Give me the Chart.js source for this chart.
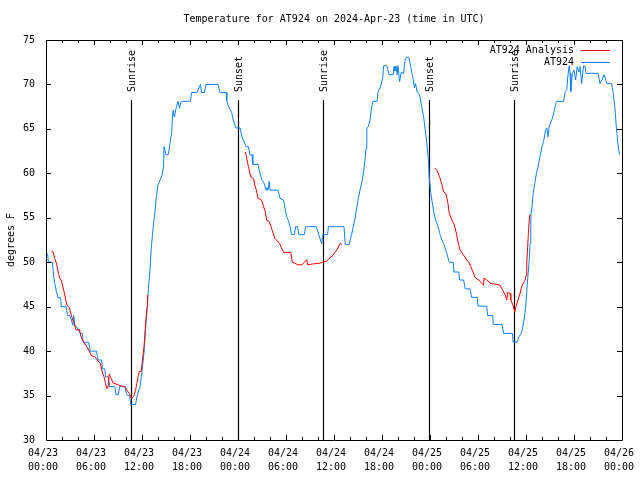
<!DOCTYPE html>
<html>
<head>
<meta charset="utf-8">
<title>Temperature for AT924</title>
<script src="https://cdn.jsdelivr.net/npm/chart.js@4.4.1/dist/chart.umd.min.js"></script>
<style>
  html, body { margin: 0; padding: 0; background: #fff; }
  canvas { display: block; }
</style>
</head>
<body>
<canvas id="chartSuhu" width="640" height="480"></canvas>
<script>
// jam sejak 04/23 00:00 UTC, suhu dalam derajat F
const stationHours = [0.2, 0.3, 0.8, 0.95, 1.1, 1.3, 1.5, 1.85, 1.9, 2.5, 2.7, 3.0, 3.2, 3.35, 3.45, 3.6, 4.0, 4.25, 4.55, 4.65,
  5.35, 5.5, 6.3, 6.5, 6.95, 7.05, 7.35, 7.45, 7.8, 7.95, 8.6, 8.75, 9.05, 9.2, 9.85, 9.95, 10.15, 10.45, 10.6, 11.2,
  11.4, 11.75, 12.0, 12.25, 12.45, 12.6, 12.8, 13.0, 13.15, 13.3, 13.45, 13.6, 13.8, 14.0, 14.25, 14.5, 14.7, 14.75, 14.9, 15.0,
  15.3, 15.5, 15.7, 15.8, 15.9, 16.0, 16.1, 16.3, 16.5, 16.7, 16.85, 17.1, 18.05, 18.2, 18.9, 19.15, 19.3, 19.45, 19.8, 20.0,
  21.5, 21.75, 22.5, 22.6, 22.8, 23.2, 23.4, 23.75, 24.25, 24.5, 24.75, 25.0, 25.3, 25.5, 25.75, 25.85, 26.5, 26.75, 27.0, 27.25,
  27.5, 27.6, 27.75, 27.9, 28.0, 29.0, 29.25, 29.7, 29.9, 30.1, 30.3, 30.5, 30.7, 31.05, 31.2, 31.45, 31.6, 32.3, 32.45, 33.8,
  34.1, 34.45, 34.6, 35.2, 35.3, 37.25, 37.4, 37.9, 38.05, 38.2, 38.4, 38.6, 38.8, 39.0, 39.2, 39.5, 39.7, 39.9, 40.0, 40.1,
  40.3, 40.5, 40.7, 40.9, 41.4, 41.5, 41.75, 41.9, 42.1, 42.2, 42.6, 42.9, 43.4, 43.5, 43.6, 43.75, 43.9, 44.0, 44.2, 44.4,
  44.7, 44.85, 45.05, 45.35, 45.6, 45.8, 45.9, 46.05, 46.2, 46.4, 46.6, 46.75, 46.95, 47.2, 47.4, 47.6, 47.8, 47.9, 48.1, 48.3,
  48.5, 48.7, 49.0, 49.3, 49.5, 49.7, 50.1, 50.4, 50.9, 51.0, 51.6, 51.7, 52.2, 52.4, 53.0, 53.2, 53.9, 54.0, 55.1, 55.2,
  55.85, 55.9, 57.0, 57.2, 58.3, 58.4, 58.9, 59.1, 59.4, 59.6, 59.75, 59.95, 60.2, 60.4, 60.5, 60.6, 60.75, 60.9, 61.1, 61.3,
  61.5, 61.75, 62.0, 62.2, 62.45, 62.6, 62.75, 62.9, 63.3, 63.55, 63.8, 64.7, 64.9, 65.1, 65.2, 65.4, 65.5, 65.6, 65.8, 66.0,
  66.2, 66.4, 66.6, 66.75, 66.96, 67.2, 67.4, 67.5, 69.0, 69.25, 69.5, 69.75, 70.1, 70.7, 70.9, 71.1, 71.3, 71.5, 71.7];
const stationTemps = [51.0, 50.0, 50.0, 48.5, 47.6, 46.7, 46.0, 46.0, 45.0, 45.0, 44.0, 44.0, 43.4, 42.9, 44.0, 43.0, 42.5, 42.0, 42.0, 41.0,
  41.0, 40.0, 40.0, 39.0, 39.0, 38.0, 38.0, 37.1, 37.1, 36.0, 36.0, 35.1, 35.1, 36.0, 36.0, 35.5, 35.0, 35.0, 34.0, 34.0,
  35.0, 36.0, 37.7, 39.8, 42.5, 44.3, 47.0, 49.2, 51.5, 53.0, 54.4, 55.5, 57.4, 58.7, 59.2, 59.8, 60.8, 63.0, 62.5, 62.1,
  62.1, 63.4, 64.5, 66.2, 67.1, 66.4, 66.6, 67.5, 68.1, 67.3, 68.0, 68.1, 68.1, 69.1, 69.1, 69.7, 70.0, 69.1, 69.1, 70.0,
  70.0, 69.1, 69.1, 68.2, 67.5, 66.9, 66.0, 65.1, 65.1, 64.1, 63.6, 63.0, 63.0, 62.1, 62.1, 61.0, 61.0, 60.0, 59.25, 58.9,
  58.1, 58.4, 58.1, 59.1, 58.1, 58.1, 57.2, 57.0, 55.9, 55.1, 54.7, 54.0, 53.1, 53.1, 54.0, 54.0, 53.1, 53.1, 54.0, 54.0,
  53.1, 52.1, 53.1, 53.1, 54.0, 54.0, 52.0, 52.0, 52.6, 53.1, 54.0, 54.75, 55.9, 57.0, 57.9, 59.1, 60.2, 61.7, 62.8, 65.1,
  65.3, 66.0, 67.5, 68.1, 68.1, 69.2, 69.6, 70.05, 70.8, 72.1, 72.1, 71.1, 71.1, 72.0, 71.5, 72.1, 71.1, 72.1, 70.3, 71.4,
  71.2, 72.6, 73.05, 73.05, 72.0, 71.0, 70.6, 69.6, 70.1, 69.1, 69.0, 68.6, 67.5, 66.4, 64.9, 63.4, 61.5, 59.6, 57.75, 56.6,
  55.5, 54.75, 54.0, 53.0, 52.5, 52.1, 51.0, 50.0, 50.0, 48.9, 48.9, 48.0, 48.0, 47.0, 47.0, 46.05, 46.05, 45.05, 45.05, 44.0,
  44.0, 43.0, 43.0, 42.0, 42.0, 41.0, 41.0, 41.6, 42.0, 42.7, 43.5, 44.8, 48.0, 50.1, 52.1, 55.3, 56.25, 57.75, 58.9, 60.0,
  60.7, 61.9, 63.0, 63.6, 64.9, 65.1, 64.1, 65.3, 66.2, 67.1, 68.1, 68.1, 69.2, 69.4, 70.7, 72.1, 71.25, 69.2, 71.25, 71.6,
  70.5, 72.0, 71.4, 72.0, 70.1, 72.1, 72.0, 71.25, 71.25, 70.1, 70.5, 71.1, 70.1, 70.1, 69.0, 67.5, 65.1, 63.2, 62.1];

// analisis: tiga potongan terpisah
const analysisHours1 = [0.7, 0.85, 1.1, 1.3, 1.55, 1.75, 1.9, 2.15, 2.4, 2.6, 2.9, 3.2, 3.45, 3.75, 4.2, 4.35, 4.65, 5.1, 5.4, 5.7,
  6.1, 6.4, 6.8, 6.95, 7.25, 7.45, 7.6, 7.75, 7.9, 8.15, 8.4, 8.75, 9.25, 9.9, 10.1, 10.4, 10.7, 10.95, 11.2, 11.35,
  11.5, 11.65, 11.9, 12.0, 12.25, 12.4, 12.5, 12.65, 12.7];
const analysisTemps1 = [51.2, 51.2, 50.4, 49.9, 48.75, 48.1, 48.0, 47.1, 46.1, 45.2, 44.9, 43.9, 43.3, 42.4, 42.4, 41.7, 41.1, 40.5, 40.0, 39.45,
  39.4, 39.0, 38.6, 37.9, 37.1, 36.35, 35.8, 35.9, 37.4, 36.9, 36.4, 36.3, 36.1, 36.0, 35.6, 35.25, 34.7, 34.9, 35.6, 36.35,
  37.1, 37.7, 37.7, 38.6, 40.5, 42.4, 43.7, 45.0, 46.3];
const analysisHours2 = [24.9, 25.05, 25.3, 25.6, 25.95, 26.1, 26.3, 26.5, 26.95, 27.2, 27.4, 27.6, 27.9, 28.2, 28.6, 29.2, 29.4, 29.7, 30.6, 30.8,
  31.1, 31.5, 32.0, 32.6, 32.7, 33.3, 34.25, 35.0, 35.5, 35.9, 36.2, 36.5, 36.7, 37.0];
const analysisTemps2 = [62.4, 61.9, 60.75, 59.6, 59.4, 58.7, 58.1, 57.2, 57.0, 56.25, 55.7, 54.7, 54.6, 53.8, 52.7, 52.1, 51.7, 51.1, 51.1, 50.0,
  49.9, 49.7, 49.7, 50.3, 49.7, 49.8, 49.9, 50.1, 50.5, 50.8, 51.2, 51.6, 52.05, 52.05];
const analysisHours3 = [48.6, 48.9, 49.2, 49.5, 49.7, 50.0, 50.25, 50.4, 50.8, 51.0, 51.3, 51.45, 51.6, 51.75, 52.2, 52.6, 52.85, 53.1, 53.45, 53.6,
  54.1, 54.5, 54.7, 54.75, 55.1, 55.6, 56.4, 56.75, 57.1, 57.4, 57.6, 57.7, 58.0, 58.1, 58.4, 58.6, 58.75, 59.0, 59.25, 59.5,
  59.7, 59.9, 60.0, 60.1, 60.2, 60.3, 60.45, 60.55];
const analysisTemps3 = [60.6, 60.3, 59.6, 58.7, 57.9, 57.7, 56.6, 55.5, 54.6, 54.3, 53.25, 52.5, 51.9, 51.4, 50.8, 50.25, 50.0, 49.5, 48.75, 48.3,
  48.0, 47.6, 47.4, 48.2, 48.0, 47.6, 47.5, 47.4, 46.85, 46.3, 45.75, 46.6, 46.5, 45.75, 45.1, 44.4, 45.0, 45.75, 46.5, 47.4,
  47.7, 48.0, 48.5, 49.9, 51.6, 53.25, 55.3, 55.3];

// matahari terbit / terbenam
const sunHours = [10.6, 23.95, 34.6, 47.9, 58.55];
const sunLabels = ['Sunrise', 'Sunset', 'Sunrise', 'Sunset', 'Sunrise'];

const xTickDays = ['04/23', '04/24', '04/25', '04/26'];
const judul = 'Temperature for AT924 on 2024-Apr-23 (time in UTC)';
const FONT = "'DejaVu Sans Mono', 'Liberation Mono', monospace";
const BIRU = '#0d80ff';
const MERAH = '#ff0000';

function toPoints(hours, temps) {
  return hours.map((h, i) => ({ x: h, y: temps[i] }));
}

const analysisData = toPoints(analysisHours1, analysisTemps1)
  .concat([{ x: 18, y: null }], toPoints(analysisHours2, analysisTemps2))
  .concat([{ x: 42, y: null }], toPoints(analysisHours3, analysisTemps3));

// hiasan ala gnuplot: bingkai, tick ke dalam, garis matahari, judul, legenda
const hiasan = {
  id: 'hiasan',
  beforeDatasetsDraw(chart) {
    const { ctx, chartArea: a, scales: { x } } = chart;
    ctx.save();
    ctx.strokeStyle = '#000';
    ctx.lineWidth = 1.2;
    ctx.fillStyle = '#000';
    ctx.font = '10px ' + FONT;
    sunHours.forEach((h, i) => {
      const px = Math.round(x.getPixelForValue(h)) + 0.5;
      ctx.beginPath();
      ctx.moveTo(px, a.top + 60);
      ctx.lineTo(px, a.bottom);
      ctx.stroke();
      ctx.save();
      ctx.translate(px + 1, a.top + 52);
      ctx.rotate(-Math.PI / 2);
      ctx.textAlign = 'left';
      ctx.textBaseline = 'middle';
      ctx.fillText(sunLabels[i], 0, 0);
      ctx.restore();
    });
    ctx.restore();
  },
  afterDraw(chart) {
    const { ctx, chartArea: a, scales: { x, y } } = chart;
    ctx.save();
    ctx.strokeStyle = '#000';
    ctx.lineWidth = 1;
    ctx.beginPath();
    ctx.rect(Math.round(a.left) + 0.5, Math.round(a.top) + 0.5,
      Math.round(a.right - a.left), Math.round(a.bottom - a.top));
    ctx.stroke();

    ctx.beginPath();
    for (let h = 0; h <= 72; h += 2) {
      const px = Math.round(x.getPixelForValue(h)) + 0.5;
      const len = h % 6 === 0 ? 5 : 3;
      ctx.moveTo(px, a.bottom); ctx.lineTo(px, a.bottom - len);
      ctx.moveTo(px, a.top); ctx.lineTo(px, a.top + len);
    }
    for (let t = 35; t < 75; t += 5) {
      const py = Math.round(y.getPixelForValue(t)) + 0.5;
      ctx.moveTo(a.left, py); ctx.lineTo(a.left + 5, py);
      ctx.moveTo(a.right, py); ctx.lineTo(a.right - 5, py);
    }
    ctx.stroke();

    ctx.fillStyle = '#000';
    ctx.font = '10px ' + FONT;
    ctx.textBaseline = 'middle';
    ctx.textAlign = 'center';
    ctx.fillText(judul, (a.left + a.right) / 2, 19);

    ctx.textAlign = 'right';
    ctx.fillText('AT924 Analysis', 574, 50);
    ctx.fillText('AT924', 574, 62);
    ctx.lineWidth = 1;
    ctx.strokeStyle = MERAH;
    ctx.beginPath(); ctx.moveTo(581, 50.5); ctx.lineTo(610, 50.5); ctx.stroke();
    ctx.strokeStyle = BIRU;
    ctx.beginPath(); ctx.moveTo(581, 62.5); ctx.lineTo(610, 62.5); ctx.stroke();
    ctx.restore();
  }
};

document.addEventListener('DOMContentLoaded', function () {
  const ctx = document.getElementById('chartSuhu').getContext('2d');
  Chart.defaults.font.family = FONT;
  Chart.defaults.font.size = 10;
  Chart.defaults.color = '#000';

  new Chart(ctx, {
    type: 'line',
    data: {
      datasets: [{
        label: 'AT924 Analysis',
        data: analysisData,
        borderColor: MERAH,
        borderWidth: 1,
        pointRadius: 0,
        spanGaps: false,
        tension: 0
      }, {
        label: 'AT924',
        data: toPoints(stationHours, stationTemps),
        borderColor: BIRU,
        borderWidth: 1,
        pointRadius: 0,
        tension: 0
      }]
    },
    options: {
      responsive: false,
      animation: false,
      events: [],
      layout: { padding: { top: 40, right: 18, left: 0, bottom: 0 } },
      plugins: {
        legend: { display: false },
        title: { display: false },
        tooltip: { enabled: false }
      },
      scales: {
        x: {
          type: 'linear',
          min: 0,
          max: 72,
          grid: { display: false, drawTicks: false },
          border: { display: false },
          ticks: {
            stepSize: 6,
            autoSkip: false,
            maxRotation: 0,
            padding: 6,
            labelOffset: -3,
            font: { size: 10, lineHeight: 1.4 },
            callback: function (v) {
              const hari = xTickDays[Math.floor(v / 24)];
              const jam = String(v % 24).padStart(2, '0') + ':00';
              return [hari, jam];
            }
          },
          afterFit: function (scale) {
            scale.height = 40;
            scale.paddingLeft = 0;
            scale.paddingRight = 0;
          }
        },
        y: {
          min: 30,
          max: 75,
          grid: { display: false, drawTicks: false },
          border: { display: false },
          ticks: { stepSize: 5, padding: 11 },
          title: {
            display: true,
            text: 'degrees F',
            font: { size: 10 },
            padding: { top: 5, bottom: 0 }
          },
          afterFit: function (scale) {
            scale.width = 46;
            scale.paddingTop = 0;
            scale.paddingBottom = 0;
          }
        }
      }
    },
    plugins: [hiasan]
  });
});
</script>
</body>
</html>
